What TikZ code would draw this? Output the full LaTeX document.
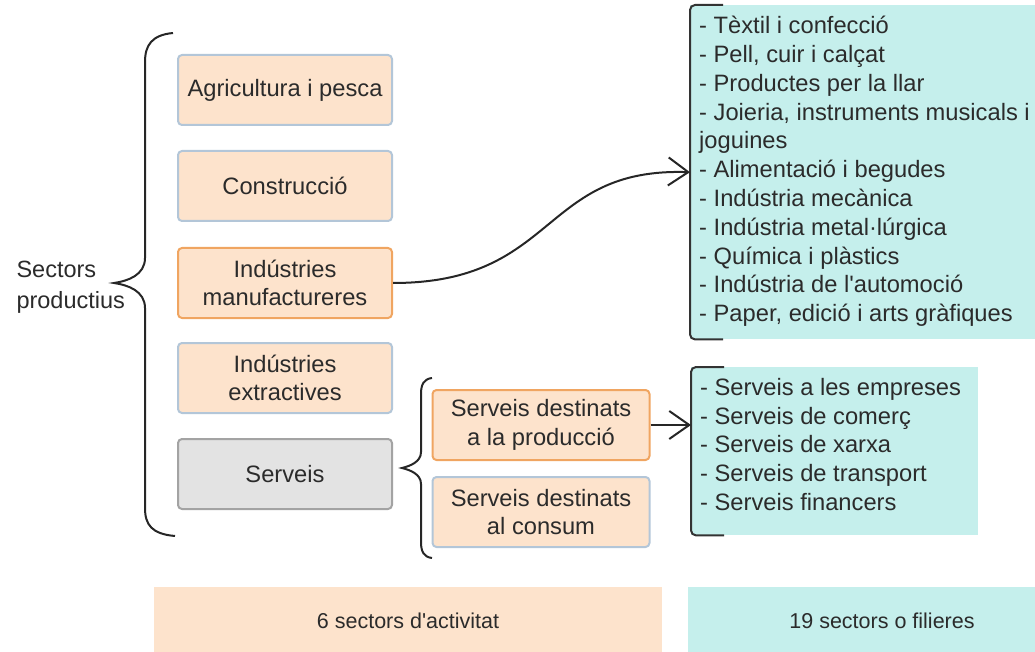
\documentclass[tikz,border=0pt]{standalone}
\usepackage{fontspec}
\setmainfont{Liberation Sans}
\usepackage{tikz}
\usepackage{xcolor}
\usetikzlibrary{arrows.meta}

\definecolor{boxfill}{HTML}{FDE3CC}
\definecolor{boxline}{HTML}{B3C6D8}
\definecolor{hotline}{HTML}{F0A561}
\definecolor{grayfill}{HTML}{E3E3E3}
\definecolor{grayline}{HTML}{A3A3A3}
\definecolor{tealfill}{HTML}{C5EFEC}
\definecolor{txt}{HTML}{2B2B2B}

\tikzset{
  sector/.style={draw=boxline, fill=boxfill, line width=2pt, rounded corners=4pt,
    minimum width=214, minimum height=70, align=center, text=txt,
    font=\fontsize{23.7}{28.5}\selectfont},
  tealbox/.style={fill=tealfill, anchor=north west, inner sep=0pt},
  listtext/.style={anchor=north west, align=left, inner xsep=9pt, inner ysep=11pt, text=txt,
    font=\fontsize{23.7}{28.8}\selectfont},
  brace/.style={draw=black!85, line width=2pt},
  bracket/.style={draw=black!80, line width=2pt, rounded corners=5pt},
  link/.style={draw=black!85, line width=2pt, -{Straight Barb[length=20pt, width=28pt, line width=2pt]}},
  bar/.style={minimum height=68, text=txt, font=\fontsize{21.5}{25}\selectfont}
}

\begin{document}
\begin{tikzpicture}[x=1pt,y=-1pt]
\useasboundingbox (0,0) rectangle (1035,652);

\node[anchor=west, align=left, text=txt, font=\fontsize{23.5}{31}\selectfont] (sect) at (13,287) {Sectors\\productius};
\draw[brace] (173,33) .. controls (152,35) and (145,45) .. (145,62) -- (145,258) .. controls (145,275) and (128,281) .. (114,283) .. controls (128,285) and (145,291) .. (145,308) -- (145,508) .. controls (145,525) and (152,534) .. (175,536);

\node[sector] (agr) at (285,90) {Agricultura i pesca};
\node[sector] (con) at (285,186) {Construcció};
\node[sector, draw=hotline] (mnf) at (285,283) {Indústries\\manufactureres};
\node[sector] (ext) at (285,378) {Indústries\\extractives};
\node[sector, draw=grayline, fill=grayfill] (srv) at (285,474) {Serveis};

\draw[brace] (432,378) .. controls (424,379) and (421,384) .. (421,394) -- (421,452) .. controls (421,462) and (410,466) .. (402,468) .. controls (410,470) and (421,474) .. (421,484) -- (421,542) .. controls (421,552) and (424,557) .. (432,558);

\node[sector, minimum width=217, draw=hotline] (prd) at (541,425) {Serveis destinats\\a la producció};
\node[sector, minimum width=217] (cns) at (541,512) {Serveis destinats\\al consum};

\node[tealbox, minimum width=400, minimum height=334] (lstA) at (690,5) {};
\node[listtext] (lstAtxt) at (lstA.north west) {- Tèxtil i confecció\\- Pell, cuir i calçat\\- Productes per la llar\\- Joieria, instruments musicals i\\joguines\\- Alimentació i begudes\\- Indústria mecànica\\- Indústria metal·lúrgica\\- Química i plàstics\\- Indústria de l\textquotesingle automoció\\- Paper, edició i arts gràfiques};
\draw[bracket] ([xshift=33pt]lstA.north west) -- (lstA.north west) -- (lstA.south west) -- ([xshift=33pt]lstA.south west);

\node[tealbox, minimum width=287, minimum height=168] (lstB) at (691,367) {};
\node[listtext] (lstBtxt) at (lstB.north west) {- Serveis a les empreses\\- Serveis de comerç\\- Serveis de xarxa\\- Serveis de transport\\- Serveis financers};
\draw[bracket] ([xshift=33pt]lstB.north west) -- (lstB.north west) -- (lstB.south west) -- ([xshift=33pt]lstB.south west);

\draw[link] (mnf.east) .. controls +(165,0) and +(-150,-5) .. (lstA.west);
\draw[link] (prd.east) -- (prd.east -| lstB.west);

\node[bar, fill=boxfill, minimum width=508] (nsec) at (408,621) {6 sectors d\textquotesingle activitat};
\node[bar, fill=tealfill, minimum width=388] (nfil) at (882,621) {19 sectors o filieres};
\end{tikzpicture}
\end{document}
